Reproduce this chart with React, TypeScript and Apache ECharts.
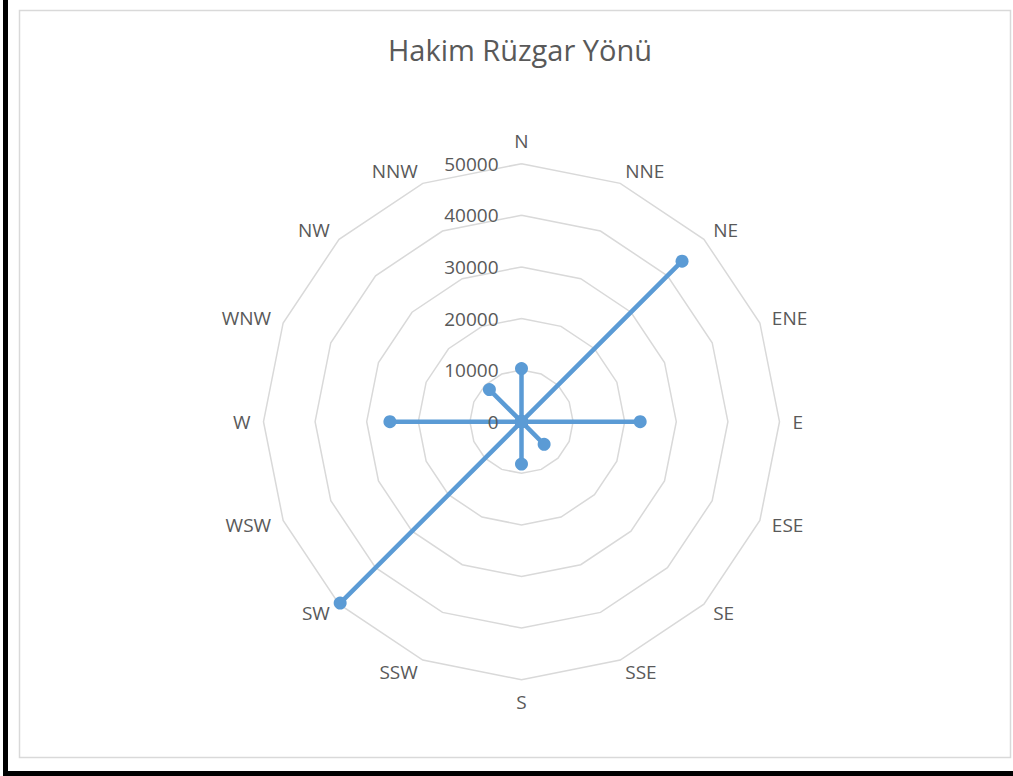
import React, { useEffect, useRef } from "react";
import * as echarts from "echarts";

const directions = ["N", "NNE", "NE", "ENE", "E", "ESE", "SE", "SSE", "S", "SSW", "SW", "WSW", "W", "WNW", "NW", "NNW"];
const windValues = [10300, 0, 44000, 0, 23000, 0, 6200, 0, 8200, 0, 49700, 0, 25500, 0, 8800, 0];
const axisMax = 50000;
const axisInterval = 10000;
const titleText = "Hakim Rüzgar Yönü";

const FONT = "'Open Sans', 'Noto Sans', sans-serif";
const TEXT_COLOR = "#595959";
const LINE_COLOR = "#5B9BD5";

// ECharts radar runs counter-clockwise; reorder so that directions go clockwise.
const clockwiseOrder = directions.map((_, i) => (directions.length - i) % directions.length);

export default function App() {
  const ref = useRef<HTMLDivElement>(null);

  useEffect(() => {
    if (!ref.current) return;
    const chart = echarts.init(ref.current, null, { renderer: "svg" });
    const center = [521.5, 421.7];
    const radius = 258;
    chart.setOption({
      animation: false,
      backgroundColor: "#ffffff",
      title: {
        text: titleText,
        left: 515,
        top: 30,
        textAlign: "center",
        textStyle: { fontFamily: FONT, fontSize: 29, fontWeight: "normal", color: TEXT_COLOR },
      },
      graphic: [
        { type: "rect", shape: { x: 3, y: 0, width: 5, height: 776 }, style: { fill: "#000" }, silent: true },
        { type: "rect", shape: { x: 3, y: 771, width: 1010, height: 5 }, style: { fill: "#000" }, silent: true },
        { type: "rect", shape: { x: 19.5, y: 10.5, width: 991, height: 747 }, style: { fill: "none", stroke: "#d9d9d9", lineWidth: 1.5 }, silent: true },
      ],
      radar: {
        center,
        radius,
        startAngle: 90,
        shape: "polygon",
        splitNumber: axisMax / axisInterval,
        indicator: clockwiseOrder.map((i) => ({ name: directions[i], min: 0, max: axisMax })),
        axisName: { color: TEXT_COLOR, fontFamily: FONT, fontSize: 19 },
        nameGap: 13,
        axisLine: { show: false },
        axisTick: { show: false },
        axisLabel: { show: false },
        splitLine: { lineStyle: { color: "#d9d9d9", width: 1.5 } },
        splitArea: { show: false },
      },
      polar: { center, radius },
      angleAxis: { type: "value", startAngle: 90, show: false, min: 0, max: 360 },
      radiusAxis: {
        type: "value",
        min: 0,
        max: axisMax,
        interval: axisInterval,
        axisLine: { show: false },
        axisTick: { show: false },
        splitLine: { show: false },
        z: 5,
        axisLabel: { color: TEXT_COLOR, fontFamily: FONT, fontSize: 19, margin: 23, formatter: (v: number) => String(v) },
      },
      series: [
        {
          type: "radar",
          symbol: "circle",
          symbolSize: 13,
          lineStyle: { color: LINE_COLOR, width: 4.5 },
          itemStyle: { color: LINE_COLOR },
          data: [{ value: clockwiseOrder.map((i) => windValues[i]), name: titleText }],
        },
      ],
    });
    return () => chart.dispose();
  }, []);

  return <div ref={ref} style={{ position: "fixed", left: 0, top: 0, width: 1013, height: 776 }} />;
}
